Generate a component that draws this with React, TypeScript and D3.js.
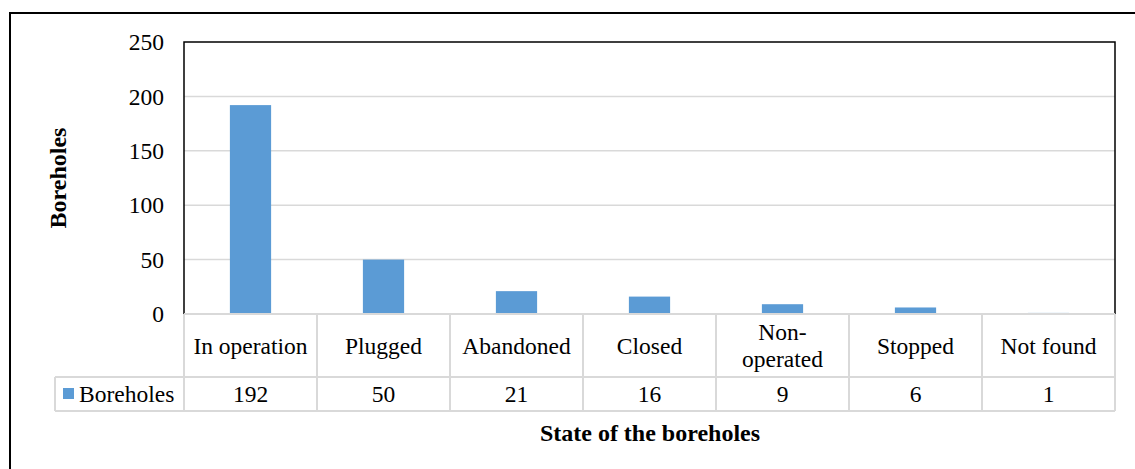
import React from 'react';
import * as d3 from 'd3';

const categories = ['In operation', 'Plugged', 'Abandoned', 'Closed', 'Non-operated', 'Stopped', 'Not found'];
const categoryLines = [['In operation'], ['Plugged'], ['Abandoned'], ['Closed'], ['Non-', 'operated'], ['Stopped'], ['Not found']];
const boreholes = [192, 50, 21, 16, 9, 6, 1];
const yTicks = [0, 50, 100, 150, 200, 250];
const seriesName = 'Boreholes';

const W = 1135;
const H = 469;
const font = 'Liberation Serif, DejaVu Serif, Times New Roman, serif';
const barColor = '#5B9BD5';
const tableColor = '#d9d9d9';
const fs = 23.5;

const App = () => {
  const left = 184, right = 1115, top = 42, bottom = 314;
  const rowSplit = 377, tableBottom = 411, legendLeft = 55;

  const x = d3.scaleBand<string>().domain(categories).range([left, right]).paddingInner(0).paddingOuter(0);
  const y = d3.scaleLinear().domain([0, 250]).range([bottom, top]);
  const barW = x.bandwidth() * 0.31;

  return (
    <svg width={W} height={H} style={{ position: 'absolute', left: 0, top: 0, background: '#fff', fontFamily: font }}>
      {/* outer frame */}
      <path d={`M10,${H} V13 H${W}`} fill="none" stroke="#000" strokeWidth={2} />

      {/* gridlines */}
      {yTicks.filter(t => t > 0 && t < 250).map(t => (
        <line key={t} x1={left} x2={right} y1={y(t)} y2={y(t)} stroke={tableColor} strokeWidth={1.5} />
      ))}

      {/* bars */}
      {categories.map((c, i) => (
        <rect key={c} x={(x(c) || 0) + x.bandwidth() / 2 - barW / 2} y={y(boreholes[i])}
          width={barW} height={bottom - y(boreholes[i])} fill={barColor} />
      ))}

      {/* plot border */}
      <path d={`M${left},${bottom} V${top} H${right} V${bottom}`} fill="none" stroke="#000" strokeWidth={1.5} />

      {/* data table */}
      <g stroke={tableColor} strokeWidth={2} fill="none">
        <line x1={left} x2={right} y1={bottom} y2={bottom} />
        <line x1={legendLeft} x2={right} y1={rowSplit} y2={rowSplit} />
        <line x1={legendLeft} x2={right} y1={tableBottom} y2={tableBottom} />
        <line x1={legendLeft} x2={legendLeft} y1={rowSplit} y2={tableBottom} />
        {categories.map(c => (
          <line key={c} x1={x(c) || 0} x2={x(c) || 0} y1={bottom} y2={tableBottom} />
        ))}
        <line x1={right} x2={right} y1={bottom} y2={tableBottom} />
      </g>

      {/* y tick labels */}
      {yTicks.map(t => (
        <text key={t} x={164} y={y(t)} dy="0.35em" textAnchor="end" fontSize={fs} fill="#000">{t}</text>
      ))}

      {/* category labels */}
      {categories.map((c, i) => {
        const lines = categoryLines[i];
        const cx = (x(c) || 0) + x.bandwidth() / 2;
        const mid = (bottom + rowSplit) / 2;
        return (
          <text key={c} x={cx} textAnchor="middle" fontSize={fs} fill="#000">
            {lines.map((l, j) => (
              <tspan key={j} x={cx} y={mid + (j - (lines.length - 1) / 2) * 27} dy="0.35em">{l}</tspan>
            ))}
          </text>
        );
      })}

      {/* values row */}
      {categories.map((c, i) => (
        <text key={c} x={(x(c) || 0) + x.bandwidth() / 2} y={(rowSplit + tableBottom) / 2} dy="0.35em"
          textAnchor="middle" fontSize={fs} fill="#000">{boreholes[i]}</text>
      ))}

      {/* legend key */}
      <rect x={63} y={388} width={11} height={11} fill={barColor} />
      <text x={79} y={(rowSplit + tableBottom) / 2} dy="0.35em" fontSize={fs} fill="#000">{seriesName}</text>

      {/* axis titles */}
      <text transform={`translate(66,${(top + bottom) / 2}) rotate(-90)`} textAnchor="middle"
        fontSize={24} fontWeight="bold" fill="#000">Boreholes</text>
      <text x={650} y={433} dy="0.35em" textAnchor="middle" fontSize={24} fontWeight="bold" fill="#000">State of the boreholes</text>
    </svg>
  );
};

export default App;
